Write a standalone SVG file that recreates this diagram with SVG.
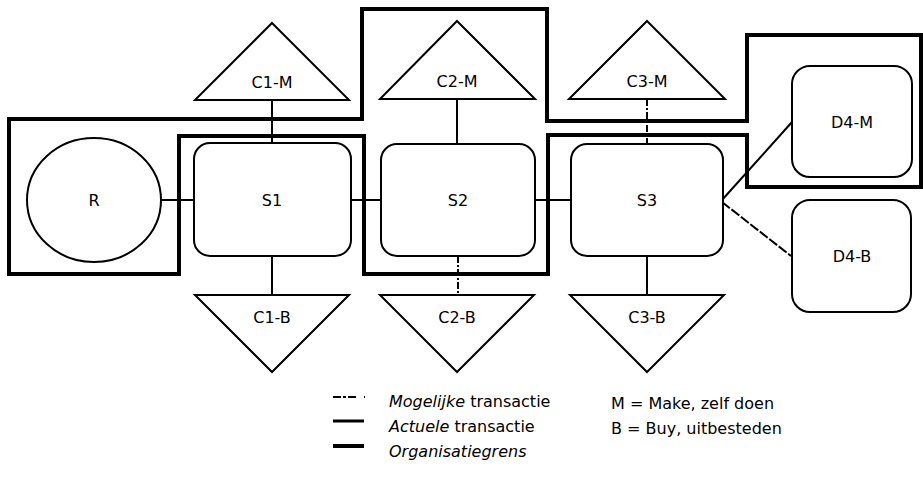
<svg xmlns="http://www.w3.org/2000/svg" width="923" height="482" viewBox="0 0 923 482">
  <style>
    .node { fill: #fff; stroke: #000; stroke-width: 2; }
    .label { font-family: "DejaVu Sans", "Noto Sans", sans-serif; font-size: 16px; fill: #000; text-anchor: middle; }
    .legend { font-family: "DejaVu Sans", "Noto Sans", sans-serif; font-size: 16px; fill: #000; }
    .actual { stroke: #000; stroke-width: 2; fill: none; }
    .possible { stroke: #000; stroke-width: 2; fill: none; stroke-dasharray: 7 2 2 2; }
    .border { stroke: #000; stroke-width: 4; fill: none; stroke-linejoin: miter; }
  </style>

  <!-- organisation boundaries -->
  <g id="boundaries">
    <path class="border" d="M9,274 V119 H362 V9 H547 V121 H747 V35 H921 V187 H747 V135 H548 V274 H364 V136 H179 V274 Z"/>
  </g>

  <!-- transactions -->
  <g id="connectors">
    <line class="actual" x1="161" y1="200" x2="194" y2="200"/>
    <line class="actual" x1="351" y1="200" x2="381" y2="200"/>
    <line class="actual" x1="535" y1="200" x2="571" y2="200"/>
    <line class="actual" x1="272" y1="100" x2="272" y2="143"/>
    <line class="actual" x1="457" y1="99" x2="457" y2="144"/>
    <line class="possible" x1="647" y1="99" x2="647" y2="144"/>
    <line class="actual" x1="272" y1="256" x2="272" y2="295"/>
    <line class="possible" x1="458" y1="256" x2="458" y2="295"/>
    <line class="actual" x1="647" y1="256" x2="647" y2="295"/>
    <line class="actual" x1="722" y1="200" x2="792" y2="122"/>
    <line class="possible" x1="722" y1="202" x2="791" y2="256" style="stroke-dasharray:10 2"/>
  </g>

  <g id="R">
    <ellipse class="node" cx="94" cy="200" rx="67" ry="62"/>
    <text class="label" x="94" y="206">R</text>
  </g>

  <g id="S1">
    <rect class="node" x="194" y="143" width="157" height="113" rx="16"/>
    <text class="label" x="272" y="206">S1</text>
  </g>
  <g id="S2">
    <rect class="node" x="381" y="144" width="154" height="112" rx="16"/>
    <text class="label" x="458" y="206">S2</text>
  </g>
  <g id="S3">
    <rect class="node" x="571" y="144" width="152" height="112" rx="16"/>
    <text class="label" x="647" y="206">S3</text>
  </g>

  <g id="C1-M">
    <polygon class="node" points="272,23 349,100 195,100"/>
    <text class="label" x="272" y="88">C1-M</text>
  </g>
  <g id="C2-M">
    <polygon class="node" points="457,21 535,99 380,99"/>
    <text class="label" x="457" y="87">C2-M</text>
  </g>
  <g id="C3-M">
    <polygon class="node" points="647,21 725,99 569,99"/>
    <text class="label" x="647" y="87">C3-M</text>
  </g>

  <g id="C1-B">
    <polygon class="node" points="195,295 349,295 272,372"/>
    <text class="label" x="272" y="323">C1-B</text>
  </g>
  <g id="C2-B">
    <polygon class="node" points="380,295 534,295 457,372"/>
    <text class="label" x="457" y="323">C2-B</text>
  </g>
  <g id="C3-B">
    <polygon class="node" points="570,295 724,295 647,372"/>
    <text class="label" x="647" y="323">C3-B</text>
  </g>

  <g id="D4-M">
    <rect class="node" x="792" y="66" width="120" height="111" rx="18"/>
    <text class="label" x="852" y="128">D4-M</text>
  </g>
  <g id="D4-B">
    <rect class="node" x="792" y="200" width="119" height="112" rx="18"/>
    <text class="label" x="852" y="262">D4-B</text>
  </g>

  <!-- legend -->
  <g id="legend">
    <line class="possible" x1="333" y1="397" x2="365" y2="397" style="stroke-dasharray:8 2 3 2 8"/>
    <line x1="333" y1="421" x2="364" y2="421" stroke="#000" stroke-width="3"/>
    <line x1="333" y1="446" x2="364" y2="446" stroke="#000" stroke-width="4"/>
    <text class="legend" x="389" y="407"><tspan font-style="italic">Mogelijke</tspan> transactie</text>
    <text class="legend" x="389" y="432"><tspan font-style="italic">Actuele</tspan> transactie</text>
    <text class="legend" x="389" y="457" font-style="italic">Organisatiegrens</text>
    <text class="legend" x="611" y="409">M = Make, zelf doen</text>
    <text class="legend" x="611" y="434">B = Buy, uitbesteden</text>
  </g>
</svg>
